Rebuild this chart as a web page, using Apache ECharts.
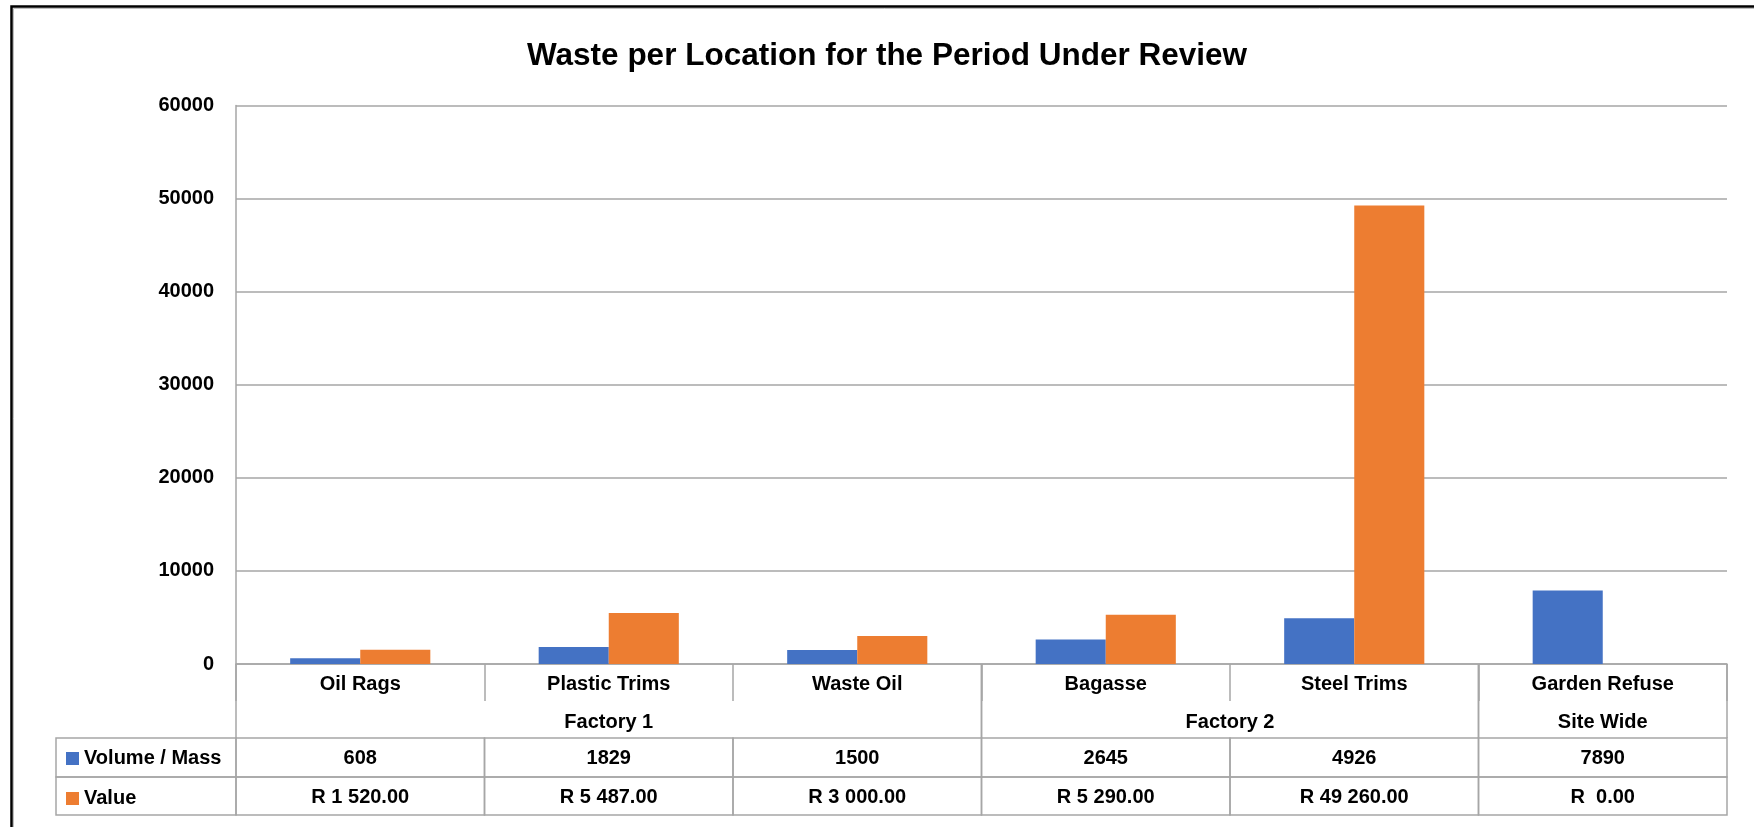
<!DOCTYPE html>
<html>
<head>
<meta charset="utf-8">
<script src="https://cdn.jsdelivr.net/npm/echarts@6/dist/echarts.min.js"></script>
<style>html,body{margin:0;padding:0;background:#fff;}#c{width:1754px;height:827px;}</style>
</head>
<body>
<div id="c"></div>
<script>
const categories = ['Oil Rags', 'Plastic Trims', 'Waste Oil', 'Bagasse', 'Steel Trims', 'Garden Refuse'];
const groupNames = ['Factory 1', 'Factory 2', 'Site Wide'];
const groupSpans = [3, 2, 1];
const volumeMass = [608, 1829, 1500, 2645, 4926, 7890];
const valueRand = [1520, 5487, 3000, 5290, 49260, 0];
const seriesNames = ['Volume / Mass', 'Value'];
const yTicks = { min: 0, max: 60000, interval: 10000 };

const FONT = 'Liberation Sans, Arial, sans-serif';
const GRID_COLOR = '#A6A6A6';
const BLUE = '#4472C4';
const ORANGE = '#ED7D31';

function fmtRand(v) {
  if (v === 0) return 'R  0.00';
  return 'R ' + v.toFixed(2).replace(/\B(?=(\d{3})+(?!\d))/g, ' ');
}
const volumeLabels = volumeMass.map(v => String(v));
const valueLabels = valueRand.map(fmtRand);

const groupStart = [], groupEnd = [], groupOf = [];
(function () {
  let idx = 0;
  groupSpans.forEach((s, g) => {
    for (let k = 0; k < s; k++) { groupStart[idx + k] = idx; groupEnd[idx + k] = idx + s - 1; groupOf[idx + k] = g; }
    idx += s;
  });
})();

const ROW1_TOP = 74, ROW_H1 = 39, ROW_H2 = 38, GROUP_Y = 58, HEAD_W = 180;
const cellFont = 'bold 20px ' + FONT;

function renderTable(params, api) {
  const i = api.value(0);
  const p = api.coord([i, 0]);
  const cx = p[0], y0 = p[1];
  const w = api.size([1, 0])[0];
  const x0 = cx - w / 2, x1 = cx + w / 2;
  const lineStyle = { stroke: GRID_COLOR, lineWidth: 1.5, fill: null };
  const txt = (x, y, t) => ({ type: 'text', x: x, y: y, style: { text: t, font: cellFont, fill: '#000', align: 'center', verticalAlign: 'middle', textAlign: 'center', textVerticalAlign: 'middle' } });
  const children = [];
  children.push({ type: 'rect', shape: { x: x0, y: y0 + ROW1_TOP, width: w, height: ROW_H1 }, style: Object.assign({}, lineStyle) });
  children.push({ type: 'rect', shape: { x: x0, y: y0 + ROW1_TOP + ROW_H1, width: w, height: ROW_H2 }, style: Object.assign({}, lineStyle) });
  children.push(txt(cx, y0 + ROW1_TOP + ROW_H1 / 2 + 1, volumeLabels[i]));
  children.push(txt(cx, y0 + ROW1_TOP + ROW_H1 + ROW_H2 / 2 + 1, valueLabels[i]));
  if (groupStart[i] === i) {
    children.push({ type: 'line', shape: { x1: x0, y1: y0, x2: x0, y2: y0 + ROW1_TOP }, style: Object.assign({}, lineStyle) });
    const a = api.coord([groupStart[i], 0])[0];
    const b = api.coord([groupEnd[i], 0])[0];
    children.push(txt((a + b) / 2, y0 + GROUP_Y, groupNames[groupOf[i]]));
  }
  if (groupEnd[i] === i) {
    children.push({ type: 'line', shape: { x1: x1, y1: y0, x2: x1, y2: y0 + ROW1_TOP }, style: Object.assign({}, lineStyle) });
  }
  if (i === 0) {
    children.push({ type: 'rect', shape: { x: x0 - HEAD_W, y: y0 + ROW1_TOP, width: HEAD_W, height: ROW_H1 }, style: Object.assign({}, lineStyle) });
    children.push({ type: 'rect', shape: { x: x0 - HEAD_W, y: y0 + ROW1_TOP + ROW_H1, width: HEAD_W, height: ROW_H2 }, style: Object.assign({}, lineStyle) });
  }
  return { type: 'group', children: children };
}

const chart = echarts.init(document.getElementById('c'), null, { renderer: 'canvas' });
chart.setOption({
  animation: false,
  backgroundColor: '#fff',
  title: {
    text: 'Waste per Location for the Period Under Review',
    left: 882, top: 35, textAlign: 'center',
    textStyle: { fontFamily: FONT, fontWeight: 'bold', fontSize: 31.5, color: '#000' }
  },
  graphic: [
    { type: 'rect', shape: { x: 11.5, y: 6.5, width: 2000, height: 2000 }, style: { fill: null, stroke: '#000', lineWidth: 2.5 }, z: 100 },
    { type: 'rect', shape: { x: 13.5, y: 8.5, width: 2000, height: 2000 }, style: { fill: null, stroke: '#BFBFBF', lineWidth: 1 }, z: 100 }
  ],
  legend: {
    data: seriesNames,
    orient: 'vertical',
    left: 61, top: 743,
    itemWidth: 13, itemHeight: 13,
    itemGap: 19,
    icon: 'rect',
    selectedMode: false,
    textStyle: { fontFamily: FONT, fontWeight: 'bold', fontSize: 20, color: '#000', lineHeight: 21 }
  },
  grid: { left: 236, right: 27, top: 105.5, bottom: 163, containLabel: false },
  xAxis: {
    type: 'category',
    data: categories,
    axisLine: { show: true, lineStyle: { color: GRID_COLOR, width: 1.5 } },
    axisTick: { show: true, length: 37, interval: 0, lineStyle: { color: GRID_COLOR, width: 1.5 } },
    axisLabel: { interval: 0, margin: 10, fontFamily: FONT, fontWeight: 'bold', fontSize: 20, color: '#000' }
  },
  yAxis: {
    type: 'value',
    min: yTicks.min, max: yTicks.max, interval: yTicks.interval,
    axisLine: { show: true, lineStyle: { color: GRID_COLOR, width: 1.5 } },
    axisTick: { show: false },
    splitLine: { show: true, lineStyle: { color: GRID_COLOR, width: 1.5 } },
    axisLabel: { margin: 22, formatter: v => String(v), fontFamily: FONT, fontWeight: 'bold', fontSize: 20, color: '#000' }
  },
  series: [
    { name: seriesNames[0], type: 'bar', data: volumeMass, itemStyle: { color: BLUE }, barGap: '0%', barCategoryGap: '43.6%' },
    { name: seriesNames[1], type: 'bar', data: valueRand, itemStyle: { color: ORANGE }, barGap: '0%', barCategoryGap: '43.6%' },
    { name: 'table', type: 'custom', data: categories.map((c, i) => [i, 0]), encode: { x: 0, y: 1 }, renderItem: renderTable, clip: false, silent: true, z: 5 }
  ]
});
</script>
</body>
</html>
